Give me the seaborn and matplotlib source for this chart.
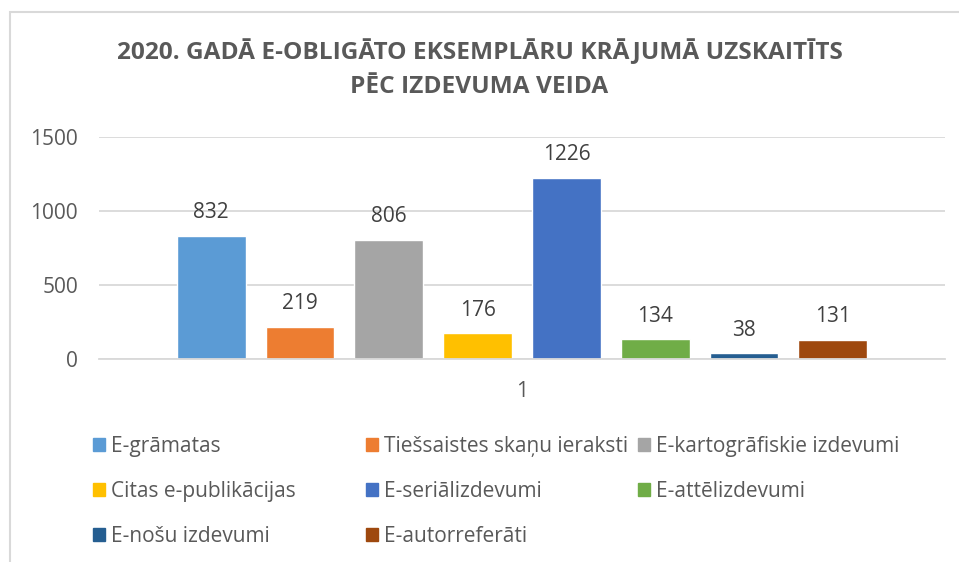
import pandas as pd
import seaborn as sns
import matplotlib.pyplot as plt
from matplotlib.patches import Rectangle, Patch

# dati
kategorijas = ['E-grāmatas', 'Tiešsaistes skaņu ieraksti', 'E-kartogrāfiskie izdevumi',
               'Citas e-publikācijas', 'E-seriālizdevumi', 'E-attēlizdevumi',
               'E-nošu izdevumi', 'E-autorreferāti']
vertibas = [832, 219, 806, 176, 1226, 134, 38, 131]
grupa = ['1'] * len(kategorijas)
krasas = ['#5B9BD5', '#ED7D31', '#A5A5A5', '#FFC000', '#4472C4', '#70AD47', '#255E91', '#9E480E']
virsraksts = '2020. GADĀ E-OBLIGĀTO EKSEMPLĀRU KRĀJUMĀ UZSKAITĪTS\nPĒC IZDEVUMA VEIDA'

df = pd.DataFrame({'grupa': grupa, 'veids': kategorijas, 'skaits': vertibas})

sns.set_style('white')
plt.rcParams['font.family'] = ['Open Sans', 'DejaVu Sans']
teksts = '#595959'

fig = plt.figure(figsize=(9.59, 5.62), dpi=100)
ax = fig.add_axes([99 / 959, 0.361, 846 / 959, 0.395])

sns.barplot(data=df, x='grupa', y='skaits', hue='veids', hue_order=kategorijas,
            palette=krasas, width=0.84, gap=0.225, ax=ax, legend=False, saturation=1)

for c in ax.containers:
    ax.bar_label(c, padding=9, fontsize=15, color='#404040')

ax.set_ylim(0, 1500)
ax.set_yticks([0, 500, 1000, 1500])
ax.yaxis.grid(True, color='#d9d9d9', lw=1.3)
ax.set_axisbelow(True)
for s in ['top', 'right', 'left']:
    ax.spines[s].set_visible(False)
ax.spines['bottom'].set_color('#d9d9d9')
ax.spines['bottom'].set_linewidth(1.3)
ax.tick_params(axis='both', length=0, labelsize=15, labelcolor=teksts)
ax.tick_params(axis='x', pad=16)
ax.tick_params(axis='y', pad=15)
ax.set_xlabel('')
ax.set_ylabel('')

fig.text(0.5, 0.877, virsraksts, ha='center', va='center', fontsize=17.6,
         fontweight='bold', color=teksts, linespacing=1.6)

# legenda: trīs kolonnas ar vienādu platumu
kolonnas = [[0, 3, 6], [1, 4, 7], [2, 5]]
kol_x = [93, 366, 638]
for idx, x0 in zip(kolonnas, kol_x):
    rokturi = [Patch(color=krasas[i], label=kategorijas[i]) for i in idx]
    fig.legend(handles=rokturi, loc='upper left', bbox_to_anchor=(x0 / 959, 0.224),
               frameon=False, fontsize=15, labelcolor=teksts, handlelength=0.58,
               handleheight=0.58, handletextpad=0.3, labelspacing=1.14,
               borderpad=0, borderaxespad=0)

fig.patches.append(Rectangle((10 / 959, -0.1), 1.1, 1.1 - 12 / 562, transform=fig.transFigure,
                             fill=False, edgecolor='#d9d9d9', lw=1.5))

fig.savefig('out.png', dpi=100)
